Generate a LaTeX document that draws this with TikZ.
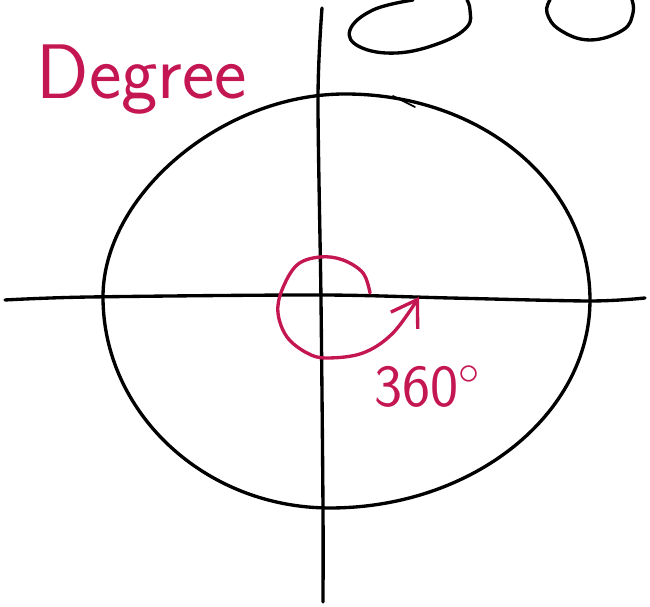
\documentclass[tikz,border=0pt]{standalone}
\usepackage{tikz}
\usetikzlibrary{arrows.meta}
\definecolor{penpink}{RGB}{196,22,82}

\tikzset{
  pen/.style={line width=0.95pt, line cap=round, line join=round},
  marker/.style={pen, penpink},
  scrawl/.style={text=penpink, inner sep=0pt, font=\sffamily\fontsize{#1}{#1}\selectfont},
}

\begin{document}
\begin{tikzpicture}[x=0.01cm, y=-0.01cm]
  \useasboundingbox (0,0) rectangle (650,607);
  % axes
  \draw[pen] plot[smooth] coordinates {(5,300) (90,297) (320,295) (450,298) (590,301) (645,298)};
  \draw[pen] plot[smooth] coordinates {(322,8) (318,98) (321,300) (323,508) (323,602)};
  % the big circle
  \draw[pen] (103,297) .. controls (103,195) and (222,94) .. (345,94)
    .. controls (482,94) and (590,184) .. (590,300)
    .. controls (590,414) and (473,508) .. (330,508)
    .. controls (205,508) and (103,413) .. cycle;
  \draw[pen, line width=0.5pt] (393,96) -- (415,107);
  % loops at the top edge
  \draw[pen] plot[smooth, tension=0.7] coordinates {(413,0) (373,10) (350,30) (360,47) (397,53) (440,43) (467,27) (470,10) (467,0)};
  \draw[pen] plot[smooth, tension=0.7] coordinates {(550,0) (547,13) (560,30) (590,40) (623,30) (633,13) (632,0)};
  % turn of 360
  \draw[marker, -{Straight Barb[length=7pt, width=9pt, line width=0.95pt]}] plot[smooth, tension=0.6] coordinates {
    (370,293) (363,273) (343,260) (320,257) (297,265) (282,290) (278,313)
    (287,337) (307,353) (327,358) (363,353) (393,333) (419,297)};
  \node[scrawl=22, anchor=base west] (title) at (36,99) {Degree};
  \node[scrawl=17, anchor=base west] (turn) at (374,407) {360$^\circ$};
\end{tikzpicture}
\end{document}
